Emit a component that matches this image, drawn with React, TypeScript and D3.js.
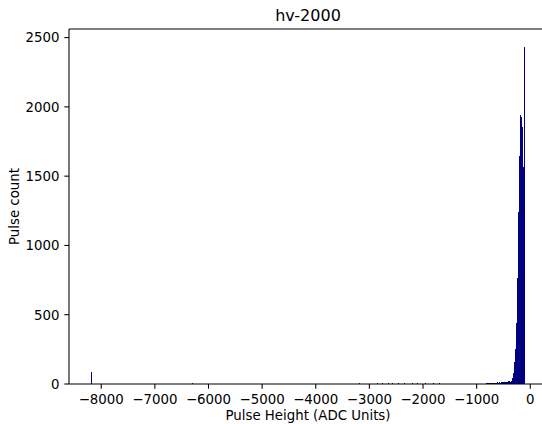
import React, { useEffect, useRef } from 'react';
import * as d3 from 'd3';

// histogram bins near the peak (ADC units)
const binWidth = 18.75;
const lastEdge = -93;
const peakCounts = [
  3, 5, 4, 6, 5, 7, 6, 8, 9, 7, 10, 8, 11, 9, 12, 10, 11, 13, 12, 15, 14, 16, 18, 20, 22, 18, 25,
  43, 79, 161, 252, 442, 764, 1241, 1643, 1938, 1930, 1854, 1566, 2435,
];

// sparse tail to the left: [start, end, count]
const tailStart = [-8196, -8177, -6300, -6281, -3200, -2860, -2760, -2660, -2570, -2460, -2360, -2210, -2110, -1960, -1810, -1710];
const tailEnd = [-8177, -6300, -6281, -843, -3181, -2841, -2741, -2641, -2551, -2441, -2341, -2191, -2091, -1941, -1791, -1691];
const tailCounts = [85, 3, 8, 3, 6, 6, 7, 6, 6, 7, 6, 6, 7, 6, 6, 6];

const xTicks = [-8000, -7000, -6000, -5000, -4000, -3000, -2000, -1000, 0];
const yTicks = [0, 500, 1000, 1500, 2000, 2500];

const W = 542, H = 424;
const font = 'DejaVu Sans, sans-serif';

const createChart = (container: SVGSVGElement) => {
  d3.select(container).selectAll('*').remove();
  const svg = d3.select(container).attr('width', W).attr('height', H);

  const left = 69, right = 547, top = 29, bottom = 384;
  const x = d3.scaleLinear().domain([-8601, 312]).range([left, right]);
  const y = d3.scaleLinear().domain([0, 2562]).range([bottom, top]);

  const bars: { x0: number; x1: number; c: number }[] = [];
  tailStart.forEach((s, i) => bars.push({ x0: s, x1: tailEnd[i], c: tailCounts[i] }));
  const n = peakCounts.length;
  peakCounts.forEach((c, i) => {
    const x1 = lastEdge - (n - 1 - i) * binWidth;
    bars.push({ x0: x1 - binWidth, x1, c });
  });

  svg.append('g')
    .selectAll('rect')
    .data(bars)
    .enter().append('rect')
    .attr('x', d => x(d.x0))
    .attr('width', d => x(d.x1) - x(d.x0))
    .attr('y', d => y(d.c))
    .attr('height', d => y(0) - y(d.c))
    .attr('fill', '#000080')
    .attr('shape-rendering', 'crispEdges');

  // spines
  const sw = 1.07;
  svg.append('line').attr('x1', left).attr('x2', left).attr('y1', top).attr('y2', bottom)
    .attr('stroke', '#000').attr('stroke-width', sw);
  svg.append('line').attr('x1', left).attr('x2', right).attr('y1', top).attr('y2', top)
    .attr('stroke', '#000').attr('stroke-width', sw);
  svg.append('line').attr('x1', left).attr('x2', right).attr('y1', bottom).attr('y2', bottom)
    .attr('stroke', '#000').attr('stroke-width', sw);
  svg.append('line').attr('x1', right).attr('x2', right).attr('y1', top).attr('y2', bottom)
    .attr('stroke', '#000').attr('stroke-width', sw);

  const fmt = d3.format('d');
  const minus = (v: number) => fmt(v).replace('-', '\u2212');

  const xg = svg.append('g');
  xTicks.forEach(t => {
    xg.append('line').attr('x1', x(t)).attr('x2', x(t)).attr('y1', bottom).attr('y2', bottom + 4.67)
      .attr('stroke', '#000').attr('stroke-width', sw);
    xg.append('text').attr('x', x(t)).attr('y', bottom + 19.5)
      .attr('text-anchor', 'middle').attr('font-family', font).attr('font-size', 13.33)
      .attr('fill', '#000').text(minus(t));
  });

  const yg = svg.append('g');
  yTicks.forEach(t => {
    yg.append('line').attr('x1', left - 4.67).attr('x2', left).attr('y1', y(t)).attr('y2', y(t))
      .attr('stroke', '#000').attr('stroke-width', sw);
    yg.append('text').attr('x', left - 9.5).attr('y', y(t)).attr('dy', '0.36em')
      .attr('text-anchor', 'end').attr('font-family', font).attr('font-size', 13.33)
      .attr('fill', '#000').text(minus(t));
  });

  svg.append('text').attr('x', (left + right) / 2).attr('y', 21)
    .attr('text-anchor', 'middle').attr('font-family', font).attr('font-size', 16)
    .text('hv-2000');

  svg.append('text').attr('x', (left + right) / 2).attr('y', 420)
    .attr('text-anchor', 'middle').attr('font-family', font).attr('font-size', 13.33)
    .text('Pulse Height (ADC Units)');

  svg.append('text')
    .attr('transform', `translate(19,${(top + bottom) / 2}) rotate(-90)`)
    .attr('text-anchor', 'middle').attr('font-family', font).attr('font-size', 13.33)
    .text('Pulse count');
};

const App = () => {
  const ref = useRef<SVGSVGElement>(null);
  useEffect(() => {
    if (ref.current) createChart(ref.current);
  }, []);
  return (
    <div>
      <svg ref={ref} style={{ position: 'absolute', left: 0, top: 0, background: '#fff' }} />
    </div>
  );
};

export default App;
